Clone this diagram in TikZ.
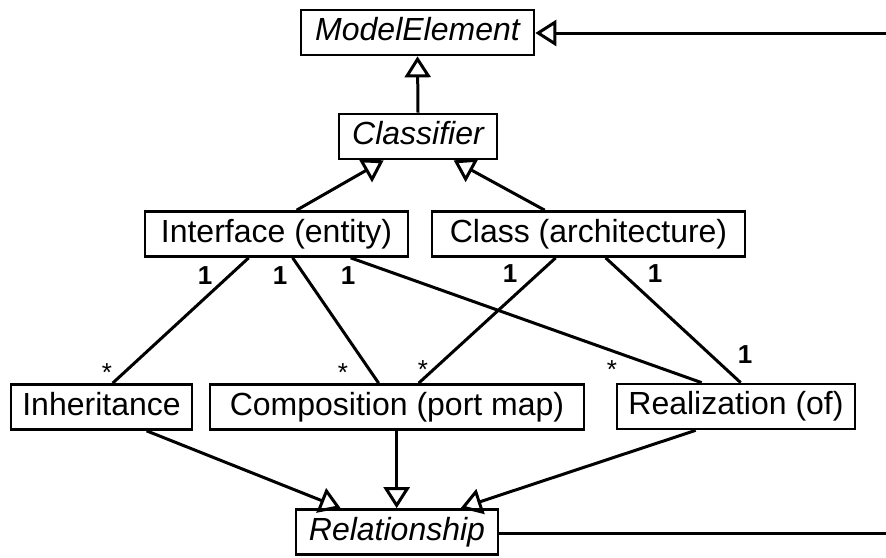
\documentclass[tikz,border=0pt]{standalone}
\usepackage{fontspec}
\setmainfont{Liberation Sans}
\usetikzlibrary{arrows.meta}
\begin{document}
\begin{tikzpicture}[x=1pt, y=-1pt]
\tikzset{
  cls/.style={draw, line width=2.7pt, inner sep=0pt, minimum height=45pt,
              text height=23pt, text depth=7pt, font=\fontsize{32}{36}\selectfont},
  abs/.style={cls, font=\fontsize{32}{36}\selectfont\itshape},
  link/.style={line width=3pt},
  gen/.style={link, -{Triangle[open, length=21pt, width=26pt]}},
  one/.style={font=\fontsize{26}{30}\selectfont\bfseries, inner sep=0pt, anchor=base},
  many/.style={font=\fontsize{26}{30}\selectfont, inner sep=0pt, anchor=base},
}
\useasboundingbox (0,0) rectangle (886,557);

% classes
\node[abs, minimum width=233pt] (model) at (417.5,32.5) {ModelElement};
\node[abs, minimum width=158pt] (classifier) at (418,136.5) {Classifier};
\node[cls, minimum width=263pt] (iface) at (276.5,234) {Interface (entity)};
\node[cls, minimum width=313pt] (class) at (588.5,234) {Class (architecture)};
\node[cls, minimum width=181pt] (inh) at (101.5,407) {Inheritance};
\node[cls, minimum width=374pt] (comp) at (397,407) {Composition (port map)};
\node[cls, minimum width=238pt] (real) at (736,406.5) {Realization (of)};
\node[abs, minimum width=202pt] (rel) at (397,532) {Relationship};

% free ends at the right margin
\coordinate (topright) at (886,33);
\coordinate (botright) at (886,533);

% generalisations
\draw[gen] (topright) -- (model.east |- topright);
\draw[gen] (classifier.north) -- (model.south);
\draw[gen] ([xshift=153pt]iface.north west) -- ([xshift=46pt]classifier.south west);
\draw[gen] ([xshift=114pt]class.north west) -- ([xshift=116pt]classifier.south west);
\draw[gen] ([xshift=137pt]inh.south west) -- ([xshift=46pt]rel.north west);
\draw[gen] ([xshift=188pt]comp.south west) -- ([xshift=102pt]rel.north west);
\draw[gen] ([xshift=80pt]real.south west) -- ([xshift=166pt]rel.north west);
\draw[link] (rel.east |- botright) -- (botright);

% associations
\draw[link] ([xshift=105pt]iface.south west) -- ([xshift=103pt]inh.north west);
\draw[link] ([xshift=149pt]iface.south west) -- ([xshift=170pt]comp.north west);
\draw[link] ([xshift=207pt]iface.south west) -- ([xshift=86pt]real.north west);
\draw[link] ([xshift=125pt]class.south west) -- ([xshift=210pt]comp.north west);
\draw[link] ([xshift=175pt]class.south west) -- ([xshift=125pt]real.north west);

% multiplicities
\node[one] (m1) at (205,284) {1};
\node[one] (m2) at (280,284) {1};
\node[one] (m3) at (348,284) {1};
\node[one] (m4) at (510,282) {1};
\node[one] (m5) at (655,282) {1};
\node[one] (m6) at (745,363) {1};
\node[many] (s1) at (107,381) {*};
\node[many] (s2) at (343,381) {*};
\node[many] (s3) at (423,378) {*};
\node[many] (s4) at (612,378) {*};
\end{tikzpicture}
\end{document}
